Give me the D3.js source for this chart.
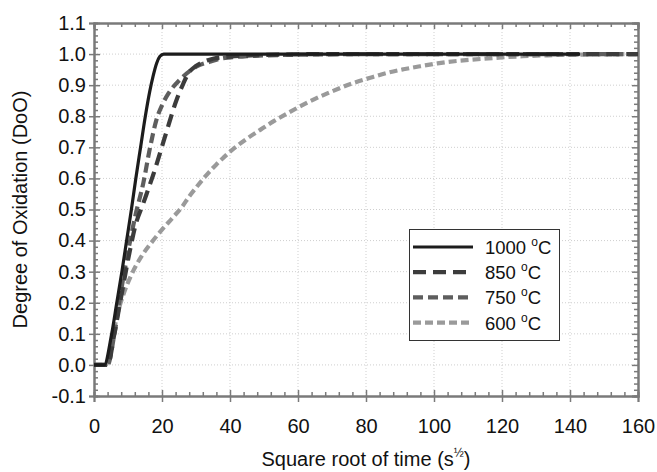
<!DOCTYPE html>
<html>
<head>
<meta charset="utf-8">
<script src="https://cdn.jsdelivr.net/npm/d3@7"></script>
<style>
  body { margin: 0; background: #fff; }
  text { font-family: Arial, "Liberation Sans", sans-serif; fill: #111; }
</style>
</head>
<body>
<div id="chart"></div>
<script>
// series: [sqrt(t), DoO]
const series1000 = [[0,0],[3,0],[5.2,0.1],[6.7,0.2],[8.2,0.3],[9.6,0.4],[11,0.5],[12.3,0.6],[13.7,0.7],[15.1,0.8],[16.4,0.88],[17.4,0.93],[18.4,0.97],[19.4,0.993],[20.5,1.0],[143,1.0]];
const series850 = [[0,0],[4,0],[6,0.1],[8,0.22],[10.6,0.37],[12.1,0.445],[14.5,0.52],[17.9,0.628],[20.9,0.735],[24.3,0.853],[26.3,0.906],[27.6,0.935],[30,0.962],[32,0.974],[35,0.985],[40,0.992],[50,0.997],[70,1.0],[160,1.0]];
const series750 = [[0,0],[4,0],[6,0.1],[8,0.24],[10.1,0.37],[12.1,0.477],[14.5,0.585],[16.5,0.7],[18.4,0.79],[20.2,0.84],[22,0.875],[25.3,0.918],[30.2,0.96],[34,0.975],[37,0.985],[45,0.993],[60,0.998],[80,1.0],[160,1.0]];
const series600 = [[0,0],[3.5,0],[5,0.06],[6.7,0.155],[8.6,0.225],[11,0.29],[14,0.35],[17,0.395],[20,0.435],[23,0.472],[26,0.51],[28,0.542],[30,0.57],[32,0.597],[34,0.622],[36,0.645],[38,0.666],[40,0.686],[42,0.704],[45,0.728],[49,0.757],[53,0.785],[57,0.81],[61,0.834],[65,0.856],[70,0.88],[76,0.906],[81,0.923],[86,0.939],[91,0.951],[96,0.961],[101,0.97],[106,0.977],[111,0.982],[116,0.986],[121,0.99],[126,0.993],[133,0.996],[140,0.998],[150,0.999],[160,1.0]];

const seriesNames = ["1000", "850", "750", "600"];
const xTicks = [0, 20, 40, 60, 80, 100, 120, 140, 160];
const yTicks = [-0.1, 0, 0.1, 0.2, 0.3, 0.4, 0.5, 0.6, 0.7, 0.8, 0.9, 1.0, 1.1];

const width = 657, height = 472;
const margin = {left: 94, right: 19, top: 23, bottom: 76};

const svg = d3.select('#chart').append('svg')
    .attr('width', width)
    .attr('height', height);

const x = d3.scaleLinear().domain([0, 160]).range([margin.left, width - margin.right]);
const y = d3.scaleLinear().domain([-0.1, 1.1]).range([height - margin.bottom, margin.top]);

const x0 = margin.left, x1 = width - margin.right;
const y0 = height - margin.bottom, y1 = margin.top;

// grid
svg.append('g')
  .selectAll('line.vg')
  .data(xTicks.slice(1, -1))
  .join('line')
  .attr('x1', d => x(d)).attr('x2', d => x(d))
  .attr('y1', y1).attr('y2', y0)
  .attr('stroke', '#cfcfcf').attr('stroke-dasharray', '1,2');

svg.append('g')
  .selectAll('line.hg')
  .data(yTicks.slice(1, -1))
  .join('line')
  .attr('y1', d => y(d)).attr('y2', d => y(d))
  .attr('x1', x0).attr('x2', x1)
  .attr('stroke', '#cfcfcf').attr('stroke-dasharray', '1,2');

const minorX = d3.range(0, 161, 4).filter(d => d % 20 !== 0);
const minorY = d3.range(-10, 111, 2).filter(d => d % 10 !== 0).map(d => d / 100);

const axisColor = '#7a7a7a';

function styleAxis(g) {
  g.select('.domain').attr('stroke', axisColor).attr('stroke-width', 2);
  g.selectAll('.tick line').attr('stroke', axisColor).attr('stroke-width', 1.5);
}

// bottom
const gx = svg.append('g').attr('transform', `translate(0,${y0})`)
  .call(d3.axisBottom(x).tickValues(xTicks).tickSize(6).tickPadding(17).tickFormat(d3.format('d')));
gx.selectAll('.tick line').attr('y1', -6);
gx.selectAll('.tick text').attr('font-size', 20);
styleAxis(gx);
svg.append('g').attr('transform', `translate(0,${y0})`)
  .call(d3.axisBottom(x).tickValues(minorX).tickSize(-4).tickFormat(''))
  .call(styleAxis);

// top
svg.append('g').attr('transform', `translate(0,${y1})`)
  .call(d3.axisTop(x).tickValues(xTicks).tickSize(-6).tickFormat(''))
  .call(styleAxis);
svg.append('g').attr('transform', `translate(0,${y1})`)
  .call(d3.axisTop(x).tickValues(minorX).tickSize(-4).tickFormat(''))
  .call(styleAxis);

// left (plain hyphen for negatives, like the original)
const gy = svg.append('g').attr('transform', `translate(${x0},0)`)
  .call(d3.axisLeft(y).tickValues(yTicks).tickSize(5).tickPadding(3).tickFormat(d => d.toFixed(1)));
gy.selectAll('.tick line').attr('x1', 6);
gy.selectAll('.tick text').attr('font-size', 20);
styleAxis(gy);
svg.append('g').attr('transform', `translate(${x0},0)`)
  .call(d3.axisLeft(y).tickValues(minorY).tickSize(-4).tickFormat(''))
  .call(styleAxis);

// right
svg.append('g').attr('transform', `translate(${x1},0)`)
  .call(d3.axisRight(y).tickValues(yTicks).tickSize(-6).tickFormat(''))
  .call(styleAxis);
svg.append('g').attr('transform', `translate(${x1},0)`)
  .call(d3.axisRight(y).tickValues(minorY).tickSize(-4).tickFormat(''))
  .call(styleAxis);

// lines
const styles = {
  "1000": {color: '#1c1c1c', dash: null, w: 3.2},
  "850": {color: '#3c3c3c', dash: '13,7', w: 4.2},
  "750": {color: '#5e5e5e', dash: '10,5', w: 4.2},
  "600": {color: '#9a9a9a', dash: '8,4', w: 4.2}
};
const allSeries = {"1000": series1000, "850": series850, "750": series750, "600": series600};

const line = d3.line()
  .x(d => x(d[0]))
  .y(d => y(d[1]))
  .curve(d3.curveMonotoneX);

for (const name of ["600", "750", "850", "1000"]) {
  const s = styles[name];
  svg.append('path')
    .datum(allSeries[name])
    .attr('d', line)
    .attr('fill', 'none')
    .attr('stroke', s.color)
    .attr('stroke-width', s.w)
    .attr('stroke-dasharray', s.dash);
}

// legend
const lg = svg.append('g');
lg.append('rect')
  .attr('x', 409.5).attr('y', 229.5).attr('width', 150).attr('height', 111)
  .attr('fill', '#fff').attr('stroke', '#333').attr('stroke-width', 1);

seriesNames.forEach((name, i) => {
  const s = styles[name];
  const ly = 247 + i * 25.2;
  lg.append('line')
    .attr('x1', 413).attr('x2', 473).attr('y1', ly).attr('y2', ly)
    .attr('stroke', s.color).attr('stroke-width', s.w)
    .attr('stroke-dasharray', s.dash);
  const t = lg.append('text')
    .attr('x', 485).attr('y', ly + 7)
    .attr('font-size', 18.5);
  t.append('tspan').text(name + ' ');
  t.append('tspan').attr('font-size', 12).attr('dy', -8).text('o');
  t.append('tspan').attr('dy', 8).text('C');
});

// axis titles
const xt = svg.append('text')
  .attr('x', x(80)).attr('y', 466)
  .attr('text-anchor', 'middle')
  .attr('font-size', 20);
xt.append('tspan').text('Square root of time (s');
xt.append('tspan').attr('font-size', 12).attr('dy', -9).text('½');
xt.append('tspan').attr('dy', 9).text(')');

svg.append('text')
  .attr('transform', `translate(27,${(y0 + y1) / 2}) rotate(-90)`)
  .attr('text-anchor', 'middle')
  .attr('font-size', 20)
  .text('Degree of Oxidation (DoO)');
</script>
</body>
</html>
